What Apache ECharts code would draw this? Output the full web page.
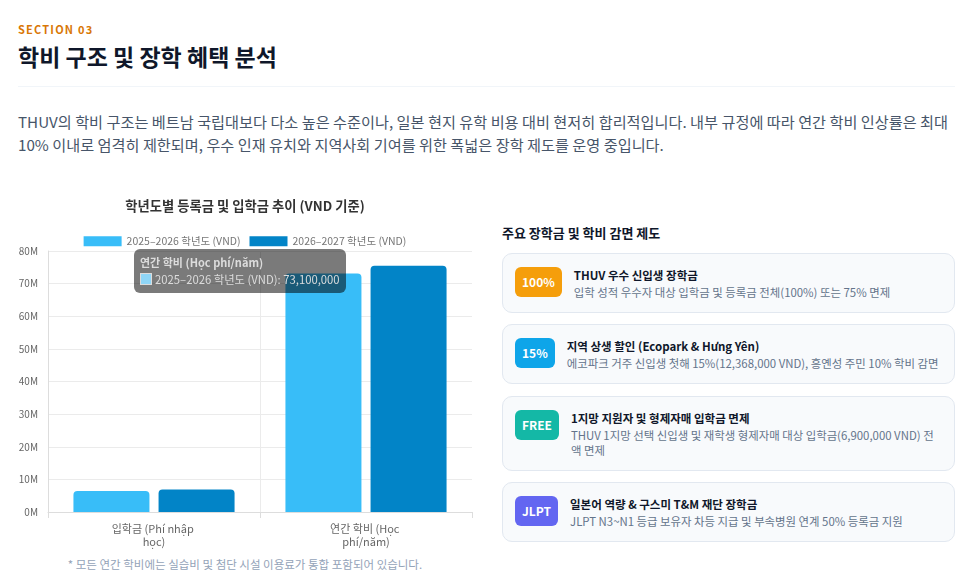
<!DOCTYPE html>
<html>
<head>
<meta charset="utf-8">
<style>
  body { margin: 0; background: #fff; font-family: "Noto Sans CJK KR", "Noto Sans", sans-serif; color: #0f172a; }
  .wrap { position: relative; width: 975px; height: 586px; overflow: hidden; }
  .sec { position: absolute; left: 18px; top: 21px; font-size: 11px; font-weight: 700; letter-spacing: 1.2px; color: #d97706; }
  h2 { position: absolute; left: 18px; top: 40px; margin: 0; font-size: 23px; font-weight: 700; line-height: 32px; }
  .hr { position: absolute; left: 18px; top: 86px; width: 937px; height: 1px; background: #f1f5f9; }
  .lead { position: absolute; left: 18px; top: 110px; margin: 0; font-size: 15.2px; line-height: 23px; color: #475569; white-space: nowrap; }
  #main { position: absolute; left: 0; top: 180px; width: 490px; height: 375px; }
  .note { position: absolute; left: 0; width: 490px; top: 556px; text-align: center; font-size: 11.5px; color: #94a3b8; }
  .side-title { position: absolute; left: 502px; top: 223px; font-size: 13px; font-weight: 700; }
  .card { position: absolute; left: 502px; width: 427px; padding: 12px 12px 12px 12px; background: #f8fafc; border: 1px solid #e2e8f0; border-radius: 10px; display: flex; align-items: flex-start; }
  .badge { flex: none; height: 30px; line-height: 30px; padding: 0 7px; border-radius: 6px; color: #fff; font-size: 12px; font-weight: 700; margin-right: 12px; margin-top: 1px; }
  .ct { font-size: 11.5px; font-weight: 700; line-height: 19px; }
  .cd { font-size: 11.4px; color: #64748b; line-height: 15px; }
</style>
</head>
<body>
<div class="wrap">
  <div class="sec">SECTION 03</div>
  <h2>학비 구조 및 장학 혜택 분석</h2>
  <div class="hr"></div>
  <p class="lead">THUV의 학비 구조는 베트남 국립대보다 다소 높은 수준이나, 일본 현지 유학 비용 대비 현저히 합리적입니다. 내부 규정에 따라 연간 학비 인상률은 최대<br>10% 이내로 엄격히 제한되며, 우수 인재 유치와 지역사회 기여를 위한 폭넓은 장학 제도를 운영 중입니다.</p>

  <div id="main"></div>
  <div class="note">* 모든 연간 학비에는 실습비 및 첨단 시설 이용료가 통합 포함되어 있습니다.</div>

  <div class="side-title">주요 장학금 및 학비 감면 제도</div>
  <div id="cards"></div>
</div>

<script src="https://cdn.jsdelivr.net/npm/echarts@6/dist/echarts.min.js"></script>
<script>
// chart data
var categories = ['입학금 (Phí nhập học)', '연간 학비 (Học phí/năm)'];
var seriesNames = ['2025–2026 학년도 (VND)', '2026–2027 학년도 (VND)'];
var fees2025 = [6400000, 73100000];
var fees2026 = [6900000, 75500000];
var yTicks = [0, 10, 20, 30, 40, 50, 60, 70, 80]; // in millions

// scholarship cards
var badges = ['100%', '15%', 'FREE', 'JLPT'];
var badgeColors = ['#f59e0b', '#0ea5e9', '#14b8a6', '#6366f1'];
var cardTitles = [
  'THUV 우수 신입생 장학금',
  '지역 상생 할인 (Ecopark & Hưng Yên)',
  '1지망 지원자 및 형제자매 입학금 면제',
  '일본어 역량 & 구스미 T&M 재단 장학금'
];
var cardDescs = [
  '입학 성적 우수자 대상 입학금 및 등록금 전체(100%) 또는 75% 면제',
  '에코파크 거주 신입생 첫해 15%(12,368,000 VND), 흥옌성 주민 10% 학비 감면',
  'THUV 1지망 선택 신입생 및 재학생 형제자매 대상 입학금(6,900,000 VND) 전액 면제',
  'JLPT N3~N1 등급 보유자 차등 지급 및 부속병원 연계 50% 등록금 지원'
];
var cardTops = [253, 324, 396, 482];

var html = '';
badges.forEach(function (b, i) {
  html += '<div class="card" style="top:' + cardTops[i] + 'px">' +
    '<div class="badge" style="background:' + badgeColors[i] + '">' + b + '</div>' +
    '<div><div class="ct">' + cardTitles[i] + '</div><div class="cd">' + cardDescs[i] + '</div></div></div>';
});
document.getElementById('cards').innerHTML = html;

var chartDom = document.getElementById('main');
var myChart = echarts.init(chartDom);
var option;

var textFont = '"Noto Sans CJK KR", sans-serif';

option = {
  animation: false,
  textStyle: { fontFamily: textFont },
  title: {
    text: '학년도별 등록금 및 입학금 추이 (VND 기준)',
    left: 'center',
    top: 14,
    textStyle: { fontSize: 13.3, fontWeight: 'bold', color: '#333', fontFamily: textFont }
  },
  legend: {
    top: 51,
    left: 'center',
    itemWidth: 38,
    itemHeight: 10,
    itemGap: 9,
    icon: 'rect',
    textStyle: { fontSize: 10.5, color: '#777', fontFamily: textFont }
  },
  tooltip: {
    trigger: 'item',
    triggerOn: 'none',
    alwaysShowContent: true,
    transitionDuration: 0,
    backgroundColor: 'rgba(0,0,0,0.52)',
    borderWidth: 0,
    padding: [5, 6],
    extraCssText: 'border-radius:6px;box-shadow:none;',
    position: [134, 69],
    formatter: function (p) {
      return '<div style="font-weight:bold;font-size:11px;color:#dcdcdc;line-height:17px">' + p.name + '</div>' +
        '<div style="font-size:11.3px;color:#dcdcdc;line-height:17px">' +
        '<span style="display:inline-block;width:10px;height:10px;background:#8fd6f7;border:1px solid #dcdcdc;margin-right:3px;vertical-align:-1px"></span>' +
        p.seriesName + ': ' + p.value.toLocaleString('en-US') + '</div>';
    }
  },
  grid: { left: 48, right: 18, top: 71, bottom: 43 },
  xAxis: {
    type: 'category',
    data: categories,
    axisLine: { lineStyle: { color: '#ddd' } },
    axisTick: { show: true, length: 6, lineStyle: { color: '#ddd' } },
    splitLine: { show: true, showMaxLine: false, lineStyle: { color: '#ebebeb' } },
    axisLabel: {
      color: '#666',
      fontSize: 11,
      margin: 10,
      lineHeight: 13,
      width: 100,
      overflow: 'break',
      fontFamily: textFont
    }
  },
  yAxis: {
    type: 'value',
    min: yTicks[0] * 1e6,
    max: yTicks[yTicks.length - 1] * 1e6,
    interval: 10e6,
    axisLine: { show: true, lineStyle: { color: '#ddd' } },
    splitLine: { lineStyle: { color: '#ebebeb' } },
    axisLabel: {
      color: '#666',
      fontSize: 10,
      margin: 10,
      fontFamily: textFont,
      formatter: function (v) { return (v / 1e6) + 'M'; }
    }
  },
  series: [
    {
      name: seriesNames[0],
      type: 'bar',
      data: fees2025,
      barWidth: 76,
      barGap: '12%',
      itemStyle: { color: '#38bdf8', borderRadius: [4, 4, 0, 0] }
    },
    {
      name: seriesNames[1],
      type: 'bar',
      data: fees2026,
      barWidth: 76,
      itemStyle: { color: '#0284c7', borderRadius: [4, 4, 0, 0] }
    }
  ]
};

option && myChart.setOption(option);
myChart.dispatchAction({ type: 'showTip', seriesIndex: 0, dataIndex: 1 });
</script>
</body>
</html>
